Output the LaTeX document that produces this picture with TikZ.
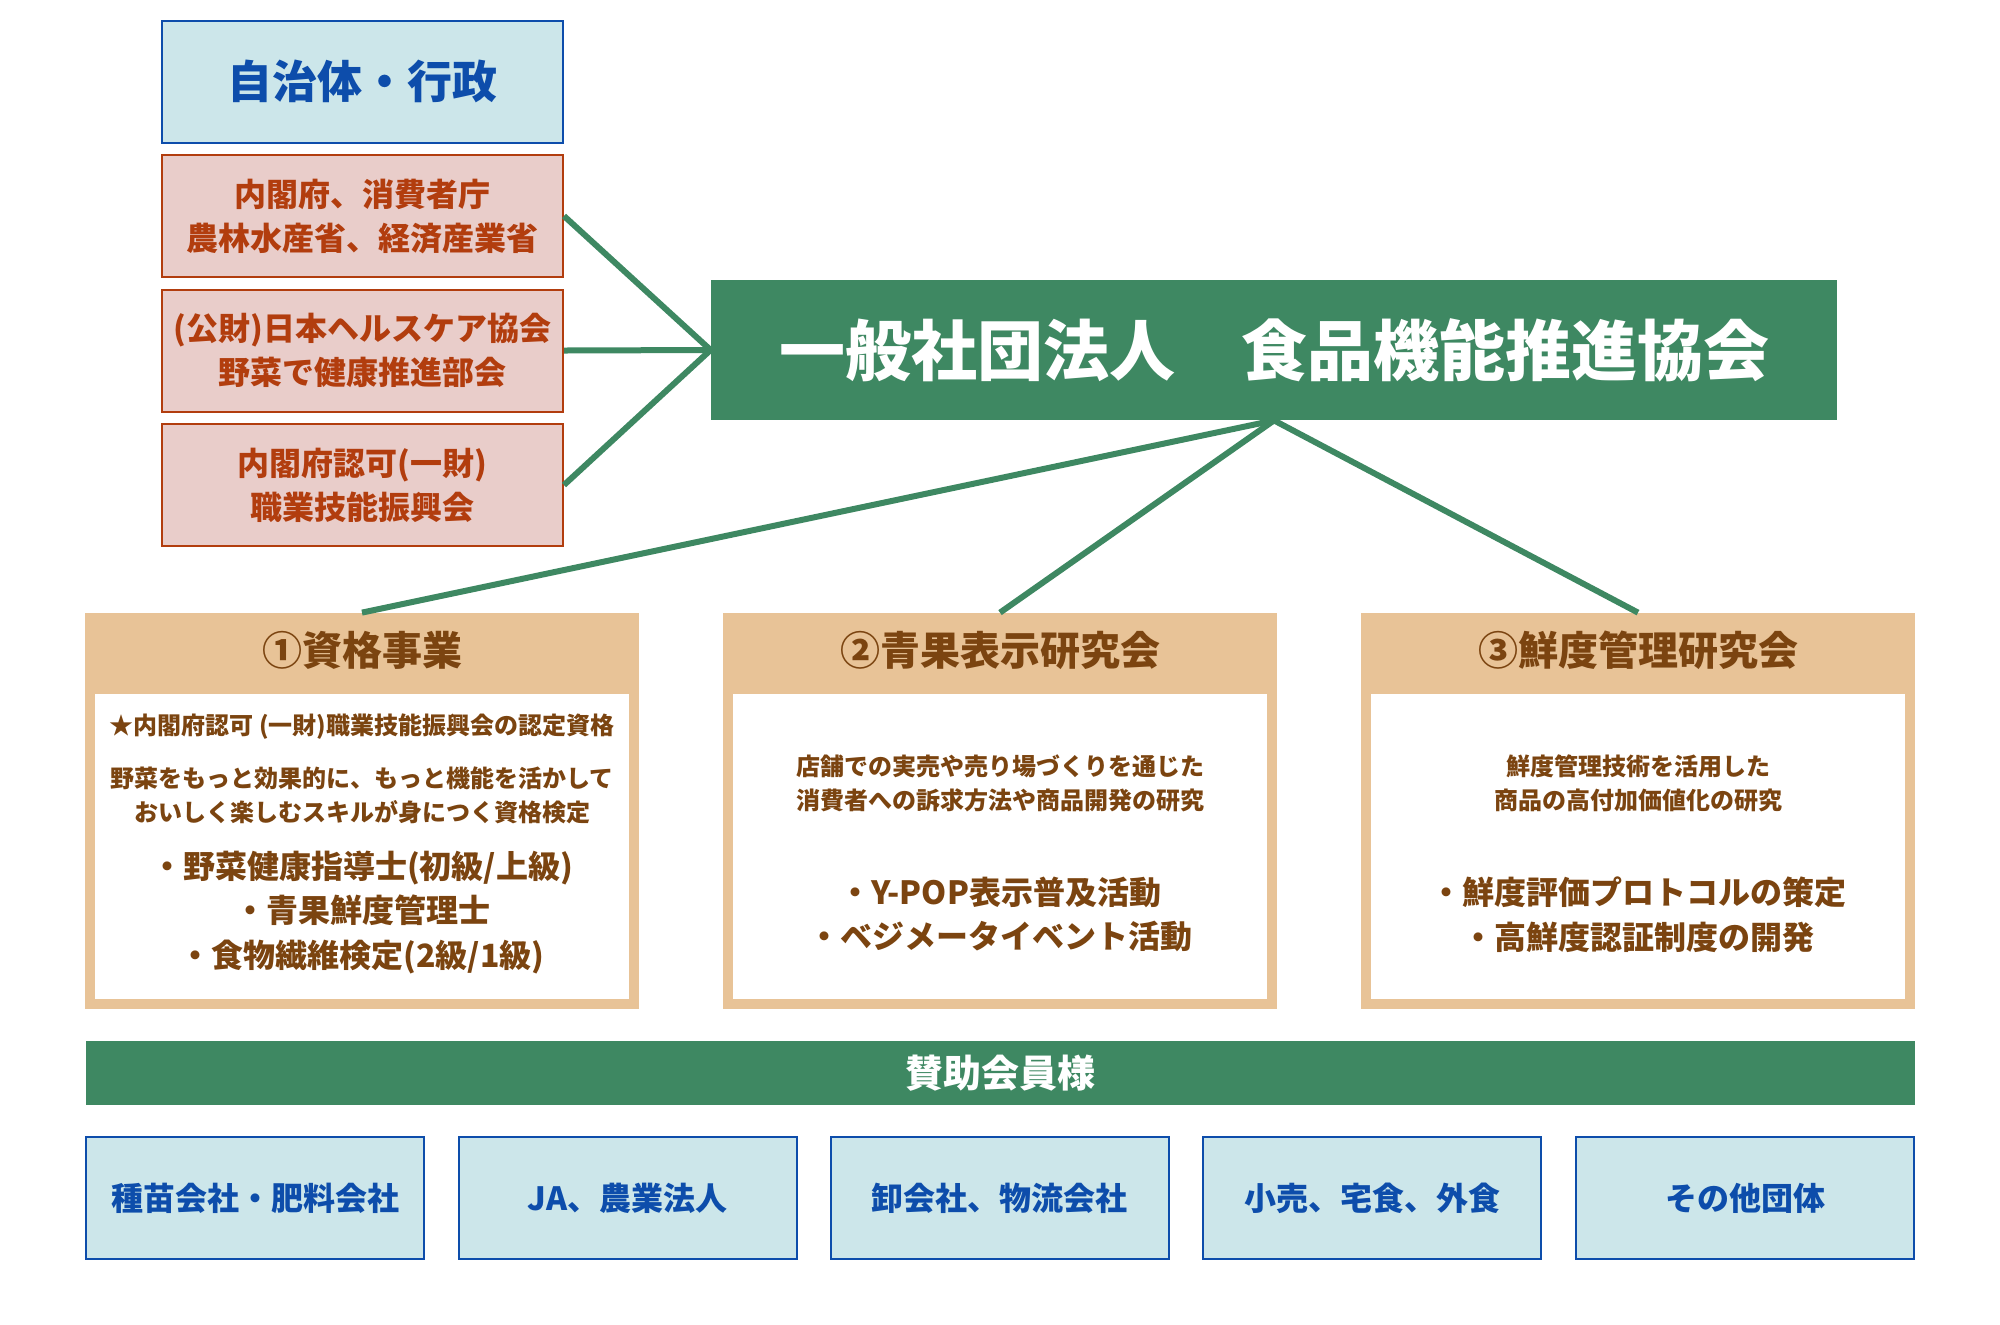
\documentclass[tikz,border=0pt]{standalone}
\usepackage{fontspec}
\setmainfont{Noto Sans CJK JP}
\definecolor{govfill}{HTML}{CCE6EA}
\definecolor{govblue}{HTML}{0D4DAB}
\definecolor{pinkfill}{HTML}{E9CDCA}
\definecolor{pinkred}{HTML}{B23D0E}
\definecolor{assocgreen}{HTML}{3E8862}
\definecolor{sectan}{HTML}{E8C397}
\definecolor{secbrown}{HTML}{7B4410}
\tikzset{
  govbox/.style={draw=govblue,line width=1pt,fill=govfill,text=govblue,inner sep=0pt,
    minimum width=200.5pt,minimum height=61pt,font=\bfseries\fontsize{22.5pt}{27pt}\selectfont},
  pinkbox/.style={draw=pinkred,line width=1pt,fill=pinkfill,text=pinkred,inner sep=0pt,align=center,
    minimum width=200.5pt,minimum height=61pt,font=\bfseries\fontsize{16pt}{22pt}\selectfont},
  assocbox/.style={fill=assocgreen,text=white,inner sep=0pt,minimum width=563pt,minimum height=70pt,
    font=\bfseries\fontsize{33pt}{40pt}\selectfont},
  link/.style={draw=assocgreen,line width=3pt},
  secbox/.style={fill=sectan,inner sep=0pt,minimum width=277pt,minimum height=198pt},
  secinner/.style={fill=white,inner sep=0pt,minimum width=267pt,minimum height=152.5pt},
  sechead/.style={text=secbrown,inner sep=0pt,font=\bfseries\fontsize{20pt}{24pt}\selectfont},
  secsmall/.style={text=secbrown,inner sep=0pt,align=center,font=\bfseries\fontsize{12pt}{17pt}\selectfont},
  secbig/.style={text=secbrown,inner sep=0pt,align=center,font=\bfseries\fontsize{16pt}{22.3pt}\selectfont},
  bandbox/.style={fill=assocgreen,text=white,inner sep=0pt,minimum width=914.5pt,minimum height=32pt,
    font=\bfseries\fontsize{19pt}{23pt}\selectfont},
  memberbox/.style={draw=govblue,line width=1pt,fill=govfill,text=govblue,inner sep=0pt,
    minimum width=169pt,minimum height=61pt,font=\bfseries\fontsize{16pt}{20pt}\selectfont}
}
\begin{document}
\begin{tikzpicture}[x=0.5pt,y=-0.5pt]
  \useasboundingbox (0,0) rectangle (2000,1324);
  % left column: public bodies
  \node[govbox] (gov) at (362.5,81.5) {自治体・行政};
  \node[pinkbox] (cao) at (362.5,216) {内閣府、消費者庁\\農林水産省、経済産業省};
  \node[pinkbox] (hca) at (362.5,350.5) {(公財)日本ヘルスケア協会\\野菜で健康推進部会};
  \node[pinkbox] (pro) at (362.5,485) {内閣府認可(一財)\\職業技能振興会};
  % the association
  \node[assocbox] (assoc) at (1274,350) {一般社団法人　食品機能推進協会};
  \foreach \n in {cao,hca,pro}
    \draw[link] (\n.east) -- (assoc.west);
  % three sections: frame and white panel
  \foreach \s/\x in {sec1/362,sec2/1000,sec3/1638} {
    \node[secbox] (\s) at (\x,811) {};
    \node[secinner] (\s-in) at (\x,846.5) {};
    \draw[link] (assoc.south) -- (\s.north);
  }
  % section 1
  \node[sechead] (head1) at (362,650) {①資格事業};
  \node[secsmall] (note1) at (362,727) {★内閣府認可 (一財)職業技能振興会の認定資格};
  \node[secsmall] (text1) at (362,795) {野菜をもっと効果的に、もっと機能を活かして\\おいしく楽しむスキルが身につく資格検定};
  \node[secbig] (list1) at (362,912.5) {・野菜健康指導士(初級/上級)\\・青果鮮度管理士\\・食物繊維検定(2級/1級)};
  % section 2
  \node[sechead] (head2) at (1000,650) {②青果表示研究会};
  \node[secsmall] (text2) at (1000,783.5) {店舗での実売や売り場づくりを通じた\\消費者への訴求方法や商品開発の研究};
  \node[secbig] (list2) at (1000,914.5) {・Y-POP表示普及活動\\・ベジメータイベント活動};
  % section 3
  \node[sechead] (head3) at (1638,650) {③鮮度管理研究会};
  \node[secsmall] (text3) at (1638,783.5) {鮮度管理技術を活用した\\商品の高付加価値化の研究};
  \node[secbig] (list3) at (1638,914.5) {・鮮度評価プロトコルの策定\\・高鮮度認証制度の開発};
  % supporting members
  \node[bandbox] (band) at (1000.5,1073) {賛助会員様};
  \foreach \m/\x/\l in {mem1/255/種苗会社・肥料会社,mem2/627.5/JA、農業法人,mem3/999.5/卸会社、物流会社,
      mem4/1372/小売、宅食、外食,mem5/1745/その他団体}
    \node[memberbox] (\m) at (\x,1198) {\l};
\end{tikzpicture}
\end{document}
